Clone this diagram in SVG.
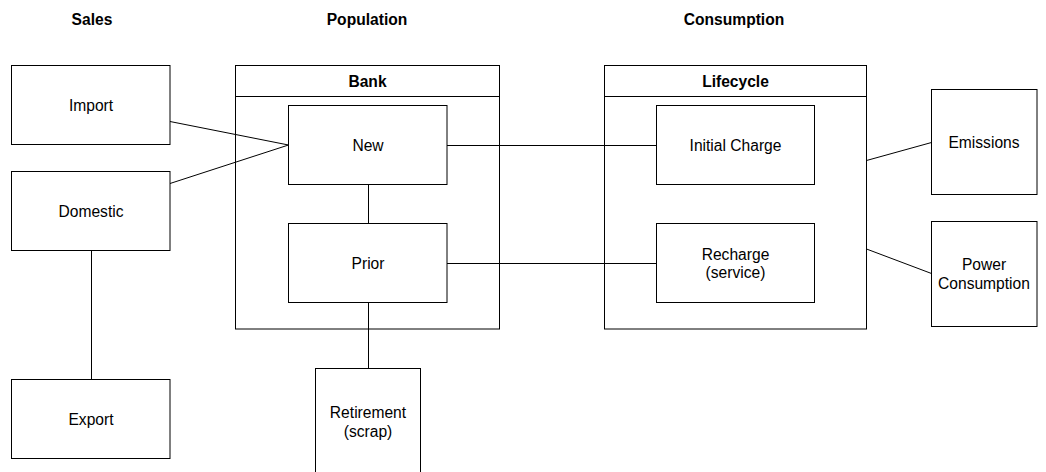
<svg xmlns="http://www.w3.org/2000/svg" width="1046" height="472" viewBox="0 0 1046 472">
<style>
.box{fill:#fff;stroke:#000;stroke-width:1}
.c{fill:none;stroke:#000;stroke-width:1}
text{font-family:"Liberation Sans",Arial,Helvetica,sans-serif;font-size:15.6px;fill:#000;text-anchor:middle}
.b{font-weight:bold}
</style>
<rect width="1046" height="472" fill="#fff"/>
<g id="titles">
<text class="b" x="92" y="25">Sales</text>
<text class="b" x="367" y="25">Population</text>
<text class="b" x="734" y="25">Consumption</text>
</g>
<g id="bank">
<rect class="box" x="235.5" y="65.5" width="264" height="263.5"/>
<line class="c" x1="235.5" y1="96.5" x2="499.5" y2="96.5"/>
<text class="b" x="367.5" y="87">Bank</text>
</g>
<g id="lifecycle">
<rect class="box" x="604.5" y="65.5" width="262" height="263.5"/>
<line class="c" x1="604.5" y1="96.5" x2="866.5" y2="96.5"/>
<text class="b" x="735.5" y="87">Lifecycle</text>
</g>
<g id="connectors">
<line class="c" x1="170" y1="121.5" x2="288.5" y2="145"/>
<line class="c" x1="170" y1="183.5" x2="288.5" y2="145"/>
<line class="c" x1="91.5" y1="250" x2="91.5" y2="380"/>
<line class="c" x1="368.5" y1="184" x2="368.5" y2="224"/>
<line class="c" x1="368.5" y1="303" x2="368.5" y2="369"/>
<line class="c" x1="447" y1="145.5" x2="656.5" y2="145.5"/>
<line class="c" x1="447" y1="263.5" x2="656.5" y2="263.5"/>
<line class="c" x1="866.5" y1="160.5" x2="931.5" y2="142.5"/>
<line class="c" x1="866.5" y1="249" x2="931.5" y2="273.5"/>
</g>
<g id="import">
<rect class="box" x="11.5" y="65.5" width="158.5" height="79"/>
<text x="91" y="110.6">Import</text>
</g>
<g id="domestic">
<rect class="box" x="11.5" y="171.5" width="158.5" height="79"/>
<text x="91" y="216.6">Domestic</text>
</g>
<g id="export">
<rect class="box" x="11.5" y="379.5" width="158.5" height="79"/>
<text x="91" y="424.6">Export</text>
</g>
<g id="new">
<rect class="box" x="288.5" y="105.5" width="158.5" height="79"/>
<text x="368" y="150.6">New</text>
</g>
<g id="prior">
<rect class="box" x="288.5" y="223.5" width="158.5" height="79"/>
<text x="368" y="268.6">Prior</text>
</g>
<g id="retirement">
<rect class="box" x="315.5" y="368.5" width="105" height="106"/>
<text x="368" y="418">Retirement</text>
<text x="368" y="436.5">(scrap)</text>
</g>
<g id="initial-charge">
<rect class="box" x="656.5" y="105.5" width="158" height="79"/>
<text x="735.5" y="150.6">Initial Charge</text>
</g>
<g id="recharge">
<rect class="box" x="656.5" y="223.5" width="158" height="79"/>
<text x="735.5" y="259.8">Recharge</text>
<text x="735.5" y="278.3">(service)</text>
</g>
<g id="emissions">
<rect class="box" x="931.5" y="89.5" width="105.5" height="105"/>
<text x="984" y="147.6">Emissions</text>
</g>
<g id="power">
<rect class="box" x="931.5" y="221.5" width="105.5" height="105"/>
<text x="984" y="270.3">Power</text>
<text x="984" y="288.8">Consumption</text>
</g>
</svg>
